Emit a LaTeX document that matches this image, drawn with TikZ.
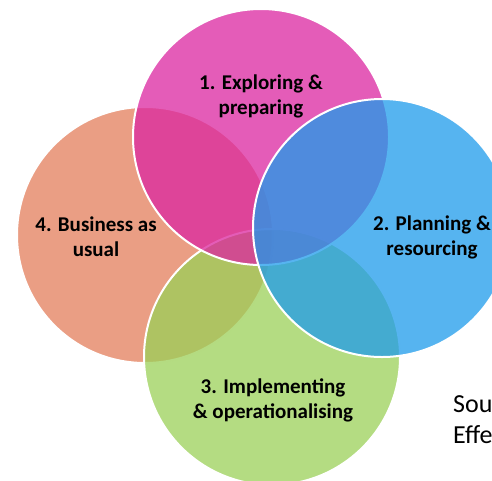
\documentclass[tikz,border=0pt]{standalone}
\usepackage{fontspec}
\setmainfont{Carlito}
\definecolor{RingOrange}{RGB}{227,126,91}
\definecolor{RingGreen} {RGB}{155,208,88}
\definecolor{RingPink}  {RGB}{219,38,160}
\definecolor{RingBlue}  {RGB}{30,155,235}
\usetikzlibrary{positioning}

\begin{document}
\begin{tikzpicture}[x=1pt,y=-1pt,
  ring/.style={circle,draw=white,line width=2pt,fill opacity=0.75,
               inner sep=0pt,minimum size=256pt},
  lbl/.style={align=center,font=\fontsize{21}{25}\selectfont\bfseries,
              text=black}]
  \useasboundingbox (0,0) rectangle (492,480);
  \clip (0,0) rectangle (492,480);
  % four overlapping stages
  \node[ring,fill=RingOrange](O) at (145,235){};
  \node[ring,fill=RingGreen] (G) at (272,357){};
  \node[ring,fill=RingPink]  (P) at (261,137){};
  \node[ring,fill=RingBlue,minimum size=258pt](B) at (382,228){};
  % stage labels
  \node[lbl] (Pt) at (261,96) {1. Exploring \&\\preparing};
  \node[lbl] (Bt) at (432,237){2. Planning \&\\resourcing};
  \node[lbl] (Gt) at (273,400){3. Implementing\\\& operationalising};
  \node[lbl] (Ot) at (96,237) {4. Business as\\usual};
  % cut-off source note
  \node[anchor=base west,align=left,inner sep=0pt,
        font=\fontsize{26}{31}\selectfont]
       (src) at (453,443){Sou\\Effe};
\end{tikzpicture}
\end{document}
